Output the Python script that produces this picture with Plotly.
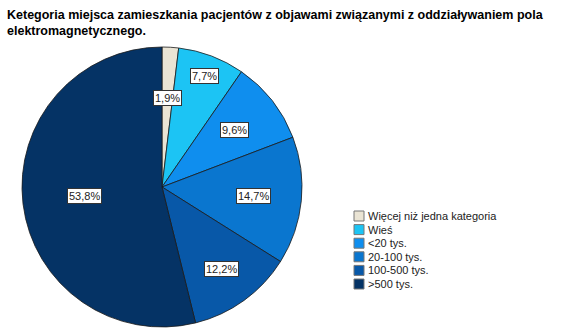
import math
import plotly.graph_objects as go

categories = ["Więcej niż jedna kategoria", "Wieś", "<20 tys.", "20-100 tys.", "100-500 tys.", ">500 tys."]
values = [1.9, 7.7, 9.6, 14.7, 12.2, 53.8]
labels_txt = ["1,9%", "7,7%", "9,6%", "14,7%", "12,2%", "53,8%"]
colors = ["#EAE4D4", "#1CC4F4", "#0F8EEE", "#0A76CF", "#0858A8", "#053365"]
label_radius = [0.64, 0.85, 0.66, 0.66, 0.72, 0.56]

W, H = 567, 334
cx, cy, R = 162, 187, 140
FONT = "Liberation Sans, Arial"

fig = go.Figure(go.Pie(
    labels=categories, values=values, sort=False, direction="clockwise",
    rotation=0, marker=dict(colors=colors, line=dict(color="#1a1a1a", width=0.8)),
    textinfo="none", hoverinfo="label+percent", showlegend=False,
    domain=dict(x=[(cx - R) / W, (cx + R) / W], y=[(H - cy - R) / H, (H - cy + R) / H]),
))

total = sum(values)
cum = 0
for v, t, rr in zip(values, labels_txt, label_radius):
    mid = (cum + v / 2) / total * 2 * math.pi
    cum += v
    px = cx + rr * R * math.sin(mid)
    py = cy - rr * R * math.cos(mid)
    fig.add_annotation(x=px / W, y=1 - py / H, xref="paper", yref="paper", text=t,
                       xanchor="center", yanchor="middle",
                       showarrow=False, bgcolor="white", bordercolor="#333", borderwidth=1,
                       borderpad=1, font=dict(family=FONT, size=11, color="#222"))

# Legend (drawn as boxes + texts, built from the category/colour lists)
lx, ly0, step, sq = 354, 216, 13.6, 10
for i, (c, col) in enumerate(zip(categories, colors)):
    yc = ly0 + i * step
    fig.add_shape(type="rect", xref="paper", yref="paper",
                  x0=lx / W, x1=(lx + sq) / W, y0=1 - (yc - sq / 2) / H, y1=1 - (yc + sq / 2) / H,
                  fillcolor=col, line=dict(color="#777", width=1))
    fig.add_annotation(x=(lx + sq + 2) / W, y=1 - yc / H, xref="paper", yref="paper",
                       text=c, showarrow=False, xanchor="left", yanchor="middle",
                       font=dict(family=FONT, size=11, color="#222"))

fig.add_annotation(x=5 / W, y=1 - 6 / H, xref="paper", yref="paper", xanchor="left", yanchor="top",
                   align="left", showarrow=False,
                   text="<b>Ketegoria miejsca zamieszkania pacjentów z objawami związanymi z oddziaływaniem pola<br>elektromagnetycznego.</b>",
                   font=dict(family=FONT, size=12.5, color="black"))

fig.update_layout(
    width=W, height=H, margin=dict(l=0, r=0, t=0, b=0),
    paper_bgcolor="white", plot_bgcolor="white",
)

fig.write_html("out.html")
